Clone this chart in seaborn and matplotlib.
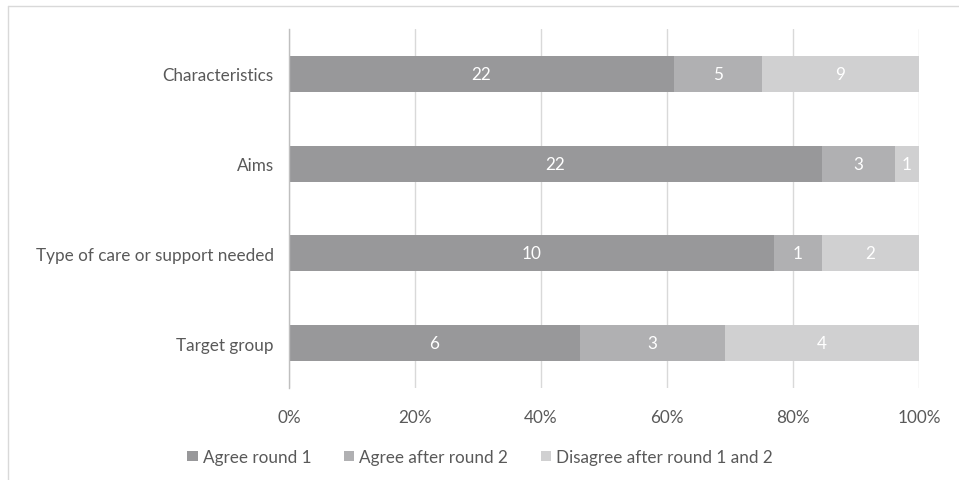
import matplotlib
matplotlib.use("Agg")
import matplotlib.pyplot as plt
import seaborn as sns
import numpy as np
import pandas as pd
from matplotlib.patches import Patch
from matplotlib.lines import Line2D

categories = ["Characteristics", "Aims", "Type of care or support needed", "Target group"]
agree_round1 = [22, 22, 10, 6]
agree_round2 = [5, 3, 1, 3]
disagree = [9, 1, 2, 4]
series_names = ["Agree round 1", "Agree after round 2", "Disagree after round 1 and 2"]
colors = ["#98989a", "#b0b0b2", "#d0d0d1"]
xtick_labels = ["0%", "20%", "40%", "60%", "80%", "100%"]

sns.set_theme(style="white")
plt.rcParams['font.family'] = ['Lato', 'DejaVu Sans']
FS = 12.3

a1 = np.array(agree_round1, float)
a2 = np.array(agree_round2, float)
d = np.array(disagree, float)
tot = a1 + a2 + d
p1 = a1 / tot * 100
p2 = a2 / tot * 100
p3 = d / tot * 100

df = pd.DataFrame({
    "cat": categories,
    "c1": p1,
    "c2": p1 + p2,
    "c3": p1 + p2 + p3,
})

fig = plt.figure(figsize=(9.59, 4.81), dpi=100)
ax = fig.add_axes([289/959, 1 - 389/481, (919-289)/959, (389-30)/481])

for col, c in zip(["c3", "c2", "c1"], colors[::-1]):
    sns.barplot(data=df, y="cat", x=col, orient="h", color=c, width=0.4,
                ax=ax, saturation=1, edgecolor="none", linewidth=0, zorder=3)

ax.set_xlim(0, 100)
ax.set_ylim(3.5, -0.5)
ax.set_xlabel("")
ax.set_ylabel("")
ax.set_xticks([0, 20, 40, 60, 80, 100])
ax.set_xticklabels(xtick_labels, color="#595959", fontsize=FS)
ax.tick_params(axis="x", length=0, pad=15)
ax.set_yticks(range(len(categories)))
ax.set_yticklabels(categories, color="#595959", fontsize=FS)
ax.tick_params(axis="y", which="major", length=0, pad=11)
ax.set_yticks(np.arange(-0.5, 4.0, 1.0), minor=True)
ax.tick_params(axis="y", which="minor", length=7, color="#bfbfbf", width=1)

ax.grid(axis="x", color="#d9d9d9", linewidth=1, zorder=0)
ax.set_axisbelow(True)
for s in ["top", "right", "bottom"]:
    ax.spines[s].set_visible(False)
ax.spines["left"].set_color("#bfbfbf")
ax.spines["left"].set_linewidth(1)
ax.spines["left"].set_zorder(4)

# data labels
for i in range(len(categories)):
    starts = [0, p1[i], p1[i] + p2[i]]
    widths = [p1[i], p2[i], p3[i]]
    vals = [agree_round1[i], agree_round2[i], disagree[i]]
    for s, w, v in zip(starts, widths, vals):
        ax.text(s + w / 2, i, str(v), ha="center", va="center", color="white",
                fontsize=FS, zorder=5)

handles = [Patch(facecolor=c, edgecolor="none") for c in colors]
fig.legend(handles, series_names, loc="center", bbox_to_anchor=(480/959, 1 - 458/481),
           ncol=3, frameon=False, prop={"size": FS},
           handlelength=0.6, handleheight=0.6,
           handletextpad=0.3, columnspacing=1.9, labelcolor="#595959")

# outer frame (top and left edges visible)
fig.add_artist(Line2D([8/959, 1], [1 - 7/481, 1 - 7/481], transform=fig.transFigure,
                      color="#d9d9d9", linewidth=1))
fig.add_artist(Line2D([8/959, 8/959], [0, 1 - 7/481], transform=fig.transFigure,
                      color="#d9d9d9", linewidth=1))

fig.savefig("out.png", dpi=100)
